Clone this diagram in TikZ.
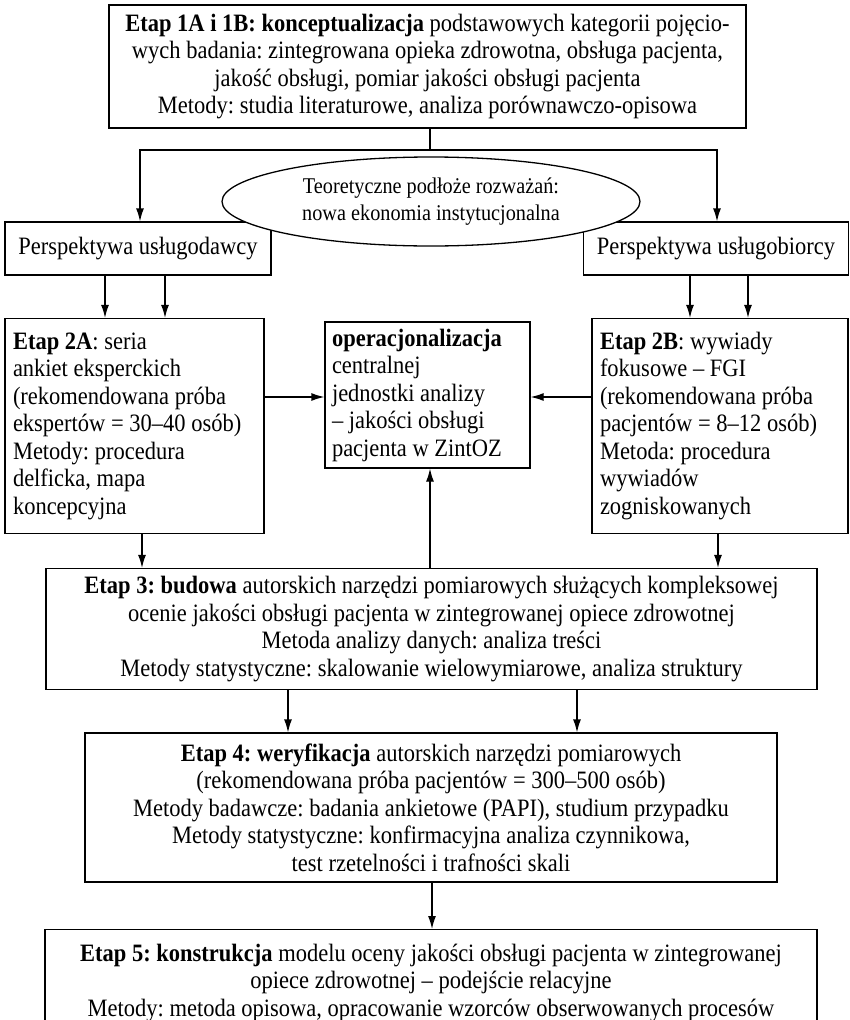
\documentclass[tikz,border=0pt]{standalone}
\usepackage{fontspec}
\setmainfont{Liberation Serif}[FakeStretch=0.9]
\usetikzlibrary{arrows.meta,shapes.geometric}
\newcommand\boxfont{\fontsize{25}{27.5}\selectfont\frenchspacing}
\newcommand\ellfont{\fontsize{22.5}{27.5}\selectfont\frenchspacing}
\begin{document}
\begin{tikzpicture}[x=1pt,y=-1pt,
  box/.style={draw, line width=1.3pt, inner sep=0pt, fill=white, font=\boxfont},
  cbox/.style={box, align=flush center},
  lbox/.style={box, align=flush left, inner xsep=8pt},
  conn/.style={line width=1.3pt},
  arr/.style={line width=1.3pt, -{Latex[length=13pt,width=8pt]}}]
\clip (0,0) rectangle (850,1020);
\fill[white] (0,0) rectangle (850,1020);

% column / row coordinates
\coordinate (j) at (430,150);
\coordinate (c140) at (140,0);
\coordinate (c717) at (717,0);
\coordinate (c105) at (105,0);
\coordinate (c165) at (165,0);
\coordinate (c690) at (690,0);
\coordinate (c748) at (748,0);
\coordinate (c143) at (142,0);
\coordinate (c718) at (718,0);
\coordinate (c430) at (430,0);
\coordinate (c288) at (288,0);
\coordinate (c577) at (577,0);
\coordinate (c432) at (432,0);
\coordinate (r397) at (0,397);

\node[cbox, minimum width=637pt, minimum height=123pt] (top) at (427.5,66.5)
 {\textbf{Etap 1A i 1B: konceptualizacja} podstawowych kategorii pojęcio-\\
  wych badania: zintegrowana opieka zdrowotna, obsługa pacjenta,\\
  jakość obsługi, pomiar jakości obsługi pacjenta\\
  Metody: studia literaturowe, analiza porównawczo-opisowa};

\node[cbox, minimum width=266pt, minimum height=53pt] (pl) at (138,248.5)
 {Perspektywa usługodawcy};
\node[cbox, minimum width=265pt, minimum height=53pt] (pr) at (716,248.5)
 {Perspektywa usługobiorcy};

\node[lbox, text width=243pt, minimum height=215pt] (s2a) at (134.5,426)
 {\textbf{Etap 2A}: seria\\
  ankiet eksperckich\\
  (rekomendowana próba\\
  ekspertów = 30–40 osób)\\
  Metody: procedura\\
  delficka, mapa\\
  koncepcyjna};

\node[lbox, inner xsep=7pt, text width=191pt, minimum height=146pt] (cen) at (427.5,395)
 {\textbf{operacjonalizacja}\\
  centralnej\\
  jednostki analizy\\
  – jakości obsługi\\
  pacjenta w ZintOZ};

\node[lbox, text width=240pt, minimum height=215pt] (s2b) at (720,426)
 {\textbf{Etap 2B}: wywiady\\
  fokusowe – FGI\\
  (rekomendowana próba\\
  pacjentów = 8–12 osób)\\
  Metoda: procedura\\
  wywiadów\\
  zogniskowanych};

\node[cbox, minimum width=771pt, minimum height=121pt] (s3) at (431.5,629)
 {\textbf{Etap 3: budowa} autorskich narzędzi pomiarowych służących kompleksowej\\
  ocenie jakości obsługi pacjenta w zintegrowanej opiece zdrowotnej\\
  Metoda analizy danych: analiza treści\\
  Metody statystyczne: skalowanie wielowymiarowe, analiza struktury};

\node[cbox, minimum width=692pt, minimum height=149pt] (s4) at (431,807.5)
 {\textbf{Etap 4: weryfikacja} autorskich narzędzi pomiarowych\\
  (rekomendowana próba pacjentów = 300–500 osób)\\
  Metody badawcze: badania ankietowe (PAPI), studium przypadku\\
  Metody statystyczne: konfirmacyjna analiza czynnikowa,\\
  test rzetelności i trafności skali};

\node[cbox, minimum width=772pt, minimum height=106pt, anchor=north] (s5) at (431,929)
 {\textbf{Etap 5: konstrukcja} modelu oceny jakości obsługi pacjenta w zintegrowanej\\
  opiece zdrowotnej – podejście relacyjne\\
  Metody: metoda opisowa, opracowanie wzorców obserwowanych procesów};

% connectors
\draw[conn] (top.south -| j) -- (j);
\draw[arr] (j) -| (pl.north -| c140);
\draw[arr] (j) -| (pr.north -| c717);

\node[draw, ellipse, line width=1.3pt, fill=white, inner sep=0pt,
      minimum width=418pt, minimum height=89pt, align=center, font=\ellfont] (ell) at (431,201.5)
 {Teoretyczne podłoże rozważań:\\ nowa ekonomia instytucjonalna};

\draw[arr] (pl.south -| c105) -- (s2a.north -| c105);
\draw[arr] (pl.south -| c165) -- (s2a.north -| c165);
\draw[arr] (pr.south -| c690) -- (s2b.north -| c690);
\draw[arr] (pr.south -| c748) -- (s2b.north -| c748);

\draw[arr] (s2a.east |- r397) -- (cen.west |- r397);
\draw[arr] (s2b.west |- r397) -- (cen.east |- r397);

\draw[arr] (s2a.south -| c143) -- (s3.north -| c143);
\draw[arr] (s2b.south -| c718) -- (s3.north -| c718);
\draw[arr] (s3.north -| c430) -- (cen.south -| c430);

\draw[arr] (s3.south -| c288) -- (s4.north -| c288);
\draw[arr] (s3.south -| c577) -- (s4.north -| c577);
\draw[arr] (s4.south -| c432) -- (s5.north -| c432);
\end{tikzpicture}
\end{document}
